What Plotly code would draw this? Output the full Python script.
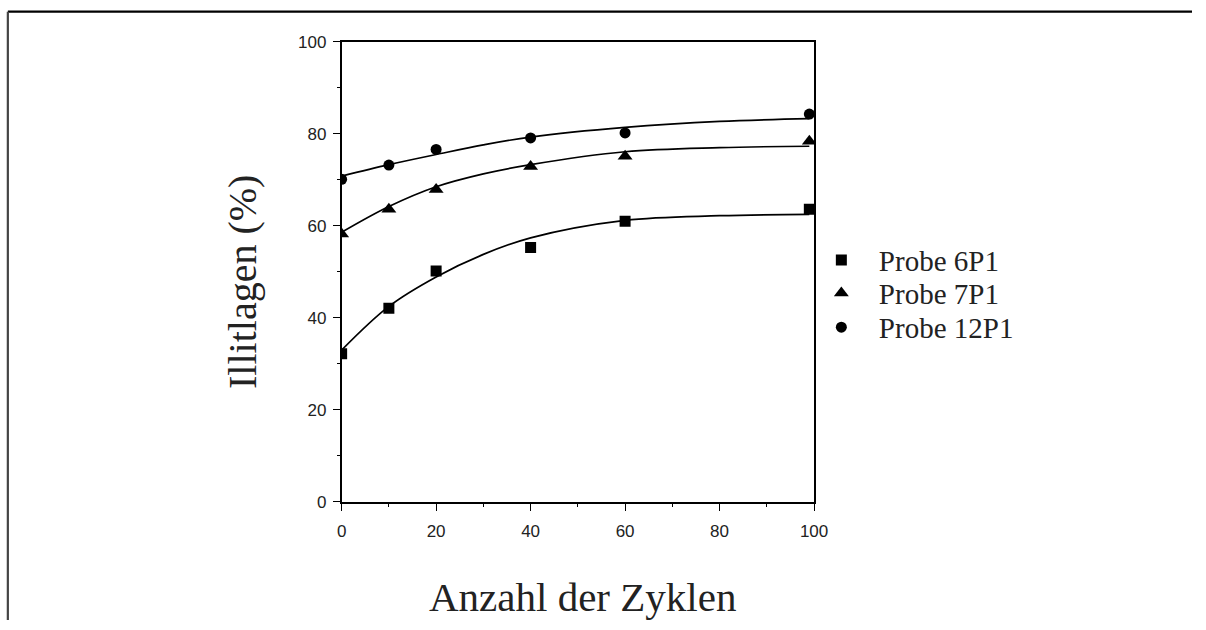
import plotly.graph_objects as go

# Measured data: number of cycles vs. illite layers (%)
zyklen = [0, 10, 20, 40, 60, 99]
probe_6p1 = [32.2, 42.1, 50.2, 55.3, 61.0, 63.6]
probe_7p1 = [58.2, 63.6, 67.9, 72.9, 75.1, 78.4]
probe_12p1 = [70.1, 73.2, 76.6, 79.1, 80.2, 84.3]

# Fitted trend curves (sampled along the drawn curve)
kurve_x = [0, 10, 20, 30, 40, 60, 80, 99]
kurve_6p1 = [33.0, 42.5, 48.9, 53.8, 57.4, 61.2, 62.2, 62.5]
kurve_7p1 = [58.6, 64.2, 68.5, 71.3, 73.3, 76.1, 77.0, 77.3]
kurve_12p1 = [70.8, 73.3, 75.5, 77.6, 79.3, 81.4, 82.7, 83.3]

x_ticks = [0, 20, 40, 60, 80, 100]
y_ticks = [0, 20, 40, 60, 80, 100]

serien = [
    ("Probe 6P1", probe_6p1, kurve_6p1, "square", 11, "legend"),
    ("Probe 7P1", probe_7p1, kurve_7p1, "triangle-up", 13, "legend2"),
    ("Probe 12P1", probe_12p1, kurve_12p1, "circle", 11, "legend3"),
]

fig = go.Figure()
for name, werte, kurve, symbol, groesse, leg in serien:
    fig.add_trace(go.Scatter(
        x=kurve_x, y=kurve, mode="lines",
        line=dict(color="black", width=1.7, shape="spline", smoothing=1.0),
        showlegend=False, hoverinfo="skip",
    ))
    fig.add_trace(go.Scatter(
        x=zyklen, y=werte, mode="markers", name=name, legend=leg,
        marker=dict(symbol=symbol, size=groesse, color="black"),
    ))

achse = dict(
    showline=True, linecolor="black", linewidth=1.7, mirror=True,
    showgrid=False, zeroline=False,
    ticks="outside", ticklen=7, tickwidth=1.3, tickcolor="black",
    tickfont=dict(family="Liberation Sans, Arial, sans-serif", size=17, color="#222"),
    minor=dict(ticks="outside", ticklen=3, tickwidth=1.2, tickcolor="black", dtick=10),
)

serif = "Liberation Serif, Times New Roman, serif"

def legende(y):
    # one legend box per sample so the rows sit at a fixed spacing
    return dict(
        x=0.673, y=y, xanchor="left", yanchor="middle",
        font=dict(family=serif, size=29, color="#222"),
        bgcolor="rgba(0,0,0,0)", itemwidth=65,
    )

fig.update_layout(
    width=1206, height=630,
    margin=dict(l=0, r=0, t=0, b=0),
    paper_bgcolor="white", plot_bgcolor="white",
    xaxis=dict(achse, range=[0, 100], tickvals=x_ticks, domain=[0.2836, 0.6816],
               ticklabelstandoff=6),
    yaxis=dict(achse, range=[0, 100], tickvals=y_ticks, domain=[0.1933, 0.9463],
               ticklabelstandoff=3),
    showlegend=True,
    legend=legende(0.589),
    legend2=legende(0.535),
    legend3=legende(0.479),
    shapes=[
        dict(type="line", xref="paper", yref="paper", x0=0.0024, x1=1, y0=0.9956, y1=0.9956,
             line=dict(color="black", width=2.2)),
        dict(type="line", xref="paper", yref="paper", x0=0.0024, x1=0.0024, y0=0, y1=0.9956,
             line=dict(color="#444", width=2.2)),
    ],
    annotations=[
        dict(text="Anzahl der Zyklen", xref="paper", yref="paper", x=0.4862, y=0.0384,
             showarrow=False, xanchor="center", yanchor="middle",
             font=dict(family=serif, size=41, color="#222")),
        dict(text="Illitlagen (%)", xref="paper", yref="paper", x=0.1995, y=0.5529,
             showarrow=False, xanchor="center", yanchor="middle", textangle=-90,
             font=dict(family=serif, size=40, color="#222")),
    ],
)

fig.write_html("out.html")
